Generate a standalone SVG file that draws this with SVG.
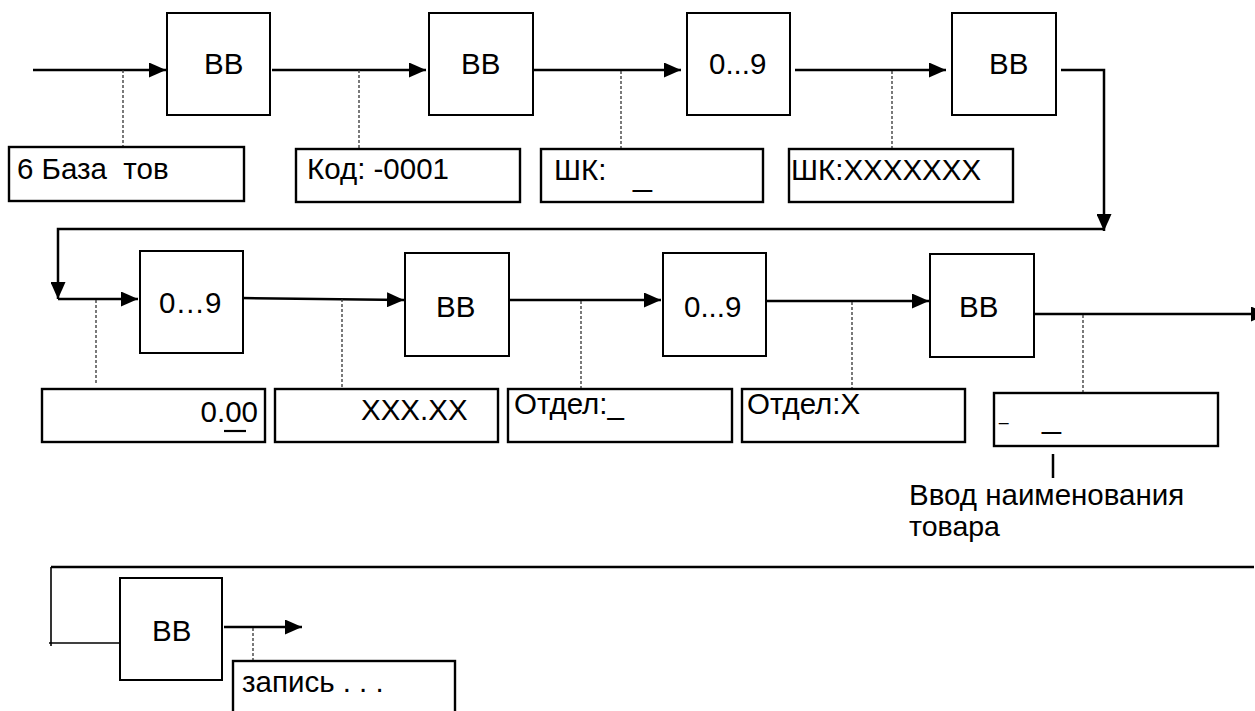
<svg xmlns="http://www.w3.org/2000/svg" width="1255" height="711" viewBox="0 0 1255 711">
<style>
  .box { fill: #fff; stroke: #000; stroke-width: 2; }
  .lbl { fill: #fff; stroke: #000; stroke-width: 2.4; }
  .t { font-family: "Liberation Sans", Arial, sans-serif; font-size: 29.5px; fill: #000; }
  .ln { fill: none; stroke: #000; stroke-width: 2.5; }
  .thin { fill: none; stroke: #000; stroke-width: 1.6; }
  .dash { fill: none; stroke: #333; stroke-width: 1.3; stroke-dasharray: 3 2; }
</style>
<defs>
  <marker id="ah" markerWidth="17" markerHeight="15" refX="17" refY="7.5" orient="auto" markerUnits="userSpaceOnUse">
    <path d="M0,0 L17,7.5 L0,15 Z" fill="#000"/>
  </marker>
</defs>
<rect width="1255" height="711" fill="#fff"/>

<g id="connectors">
  <line class="ln" x1="33" y1="70" x2="166" y2="70" marker-end="url(#ah)"/>
  <line class="ln" x1="272" y1="70" x2="426" y2="70" marker-end="url(#ah)"/>
  <line class="ln" x1="534" y1="70" x2="681" y2="70" marker-end="url(#ah)"/>
  <line class="ln" x1="795" y1="70" x2="946" y2="70" marker-end="url(#ah)"/>
  <polyline class="ln" points="1061,70 1104,70 1104,231" marker-end="url(#ah)"/>
  <polyline class="ln" points="1104,229 58,229 58,299" marker-end="url(#ah)"/>
  <line class="ln" x1="58" y1="299" x2="138" y2="299" marker-end="url(#ah)"/>
  <line class="ln" x1="241" y1="298" x2="404" y2="300" marker-end="url(#ah)"/>
  <line class="ln" x1="510" y1="300" x2="661" y2="300" marker-end="url(#ah)"/>
  <line class="ln" x1="767" y1="301" x2="929" y2="301" marker-end="url(#ah)"/>
  <line class="ln" x1="1034" y1="314" x2="1268" y2="314" marker-end="url(#ah)"/>
  <line class="ln" x1="51" y1="567" x2="1254" y2="567"/>
  <polyline class="thin" points="51,567 51,646"/>
  <line class="thin" x1="49" y1="643" x2="121" y2="643"/>
  <line class="ln" x1="224" y1="627" x2="302" y2="627" marker-end="url(#ah)"/>
  <line class="dash" x1="123" y1="70" x2="123" y2="147"/>
  <line class="dash" x1="359" y1="70" x2="359" y2="149"/>
  <line class="dash" x1="621" y1="71" x2="621" y2="149"/>
  <line class="dash" x1="892" y1="71" x2="892" y2="149"/>
  <line class="dash" x1="96" y1="300" x2="96" y2="384"/>
  <line class="dash" x1="342" y1="299" x2="342" y2="388"/>
  <line class="dash" x1="581" y1="301" x2="581" y2="389"/>
  <line class="dash" x1="852" y1="302" x2="852" y2="389"/>
  <line class="dash" x1="1083" y1="315" x2="1083" y2="393"/>
  <line class="dash" x1="253" y1="628" x2="253" y2="661"/>
  <line x1="1053" y1="454" x2="1053" y2="478" stroke="#000" stroke-width="2.5"/>
</g>

<g id="n1"><rect class="box" x="167" y="13" width="103" height="102"/><text class="t" x="204" y="74">BB</text></g>
<g id="n2"><rect class="box" x="429" y="13" width="104" height="102"/><text class="t" x="461" y="74">BB</text></g>
<g id="n3"><rect class="box" x="687" y="13" width="103" height="102"/><text class="t" x="709" y="74">0...9</text></g>
<g id="n4"><rect class="box" x="952" y="13" width="104" height="102"/><text class="t" x="989" y="74">BB</text></g>
<g id="n5"><rect class="box" x="140" y="251" width="103" height="102"/><text class="t" x="159" y="313">0…9</text></g>
<g id="n6"><rect class="box" x="405" y="253" width="104" height="103"/><text class="t" x="436" y="317">BB</text></g>
<g id="n7"><rect class="box" x="663" y="253" width="103" height="103"/><text class="t" x="684" y="317">0...9</text></g>
<g id="n8"><rect class="box" x="930" y="254" width="104" height="103"/><text class="t" x="959" y="317">BB</text></g>
<g id="n9"><rect class="box" x="120" y="578" width="102" height="102"/><text class="t" x="152" y="641">BB</text></g>

<g id="l1"><rect class="lbl" x="9" y="147" width="235" height="54"/><text class="t" x="17" y="179" xml:space="preserve">6 База  тов</text></g>
<g id="l2"><rect class="lbl" x="296" y="149" width="224" height="53"/><text class="t" x="307" y="179">Код: -0001</text></g>
<g id="l3"><rect class="lbl" x="541" y="149" width="222" height="53"/><text class="t" x="554" y="180">ШК:</text><text class="t" x="633" y="185" style="font-size:34px">_</text></g>
<g id="l4"><rect class="lbl" x="789" y="149" width="224" height="53"/><text class="t" x="791" y="180">ШК:XXXXXXX</text></g>
<g id="l5"><rect class="lbl" x="42" y="389" width="223" height="53"/><text class="t" x="258" y="422" text-anchor="end">0.00</text><line x1="224" y1="431" x2="246" y2="431" stroke="#000" stroke-width="2.2"/></g>
<g id="l6"><rect class="lbl" x="275" y="389" width="223" height="53"/><text class="t" x="361" y="420">XXX.XX</text></g>
<g id="l7"><rect class="lbl" x="508" y="389" width="224" height="53"/><text class="t" x="514" y="414">Отдел:_</text></g>
<g id="l8"><rect class="lbl" x="742" y="389" width="223" height="53"/><text class="t" x="747" y="414">Отдел:X</text></g>
<g id="l9"><rect class="lbl" x="994" y="393" width="224" height="53"/><text class="t" x="999" y="421" style="font-size:17px">_</text><text class="t" x="1042" y="427" style="font-size:34px">_</text></g>
<g id="l10"><rect class="lbl" x="233" y="661" width="222" height="70"/><text class="t" x="242" y="692">запись . . .</text></g>
<g id="note"><text class="t" x="909" y="505">Ввод наименования</text><text class="t" x="909" y="536" style="font-size:28.5px">товара</text></g>
</svg>
